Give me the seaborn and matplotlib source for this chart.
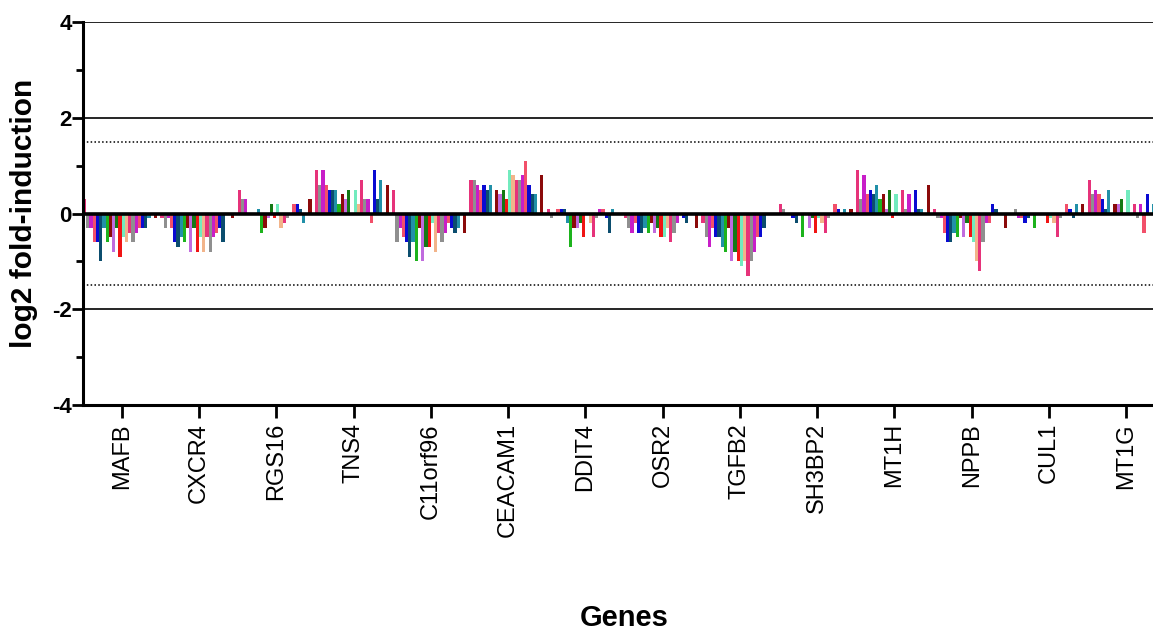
import numpy as np
import pandas as pd
import matplotlib
matplotlib.use("Agg")
import matplotlib.pyplot as plt
import seaborn as sns

sns.set_style("white")
plt.rcParams['font.family'] = ['Liberation Sans', 'DejaVu Sans']
plt.rcParams['axes.unicode_minus'] = False
plt.rcParams.update({'text.color': 'black', 'axes.labelcolor': 'black',
                     'xtick.color': 'black', 'ytick.color': 'black'})

# genes on the x axis
genes = ["MAFB", "CXCR4", "RGS16", "TNS4", "C11orf96", "CEACAM1", "DDIT4",
         "OSR2", "TGFB2", "SH3BP2", "MT1H", "NPPB", "CUL1", "MT1G"]

# log2 fold-induction, 24 samples per gene
mafb = [0.3, -0.3, -0.3, -0.6, -0.6, -1.0, -0.3, -0.6, -0.5, -0.8, -0.3, -0.9,
        -0.5, -0.6, -0.4, -0.6, -0.4, -0.3, -0.3, -0.3, -0.1, 0.0, -0.1, 0.0]
cxcr4 = [-0.1, -0.3, -0.1, -0.3, -0.6, -0.7, -0.5, -0.6, -0.3, -0.8, -0.3, -0.8,
         -0.5, -0.8, -0.5, -0.8, -0.5, -0.4, -0.3, -0.6, 0.0, 0.0, -0.1, 0.0]
rgs16 = [0.5, 0.3, 0.3, 0.0, 0.0, 0.0, 0.1, -0.4, -0.3, -0.1, 0.2, -0.1,
         0.2, -0.3, -0.2, -0.1, 0.0, 0.2, 0.2, 0.1, -0.2, 0.0, 0.3, 0.0]
tns4 = [0.9, 0.6, 0.9, 0.6, 0.5, 0.5, 0.5, 0.2, 0.4, 0.3, 0.5, 0.0,
        0.5, 0.2, 0.7, 0.3, 0.3, -0.2, 0.9, 0.3, 0.7, 0.0, 0.6, 0.0]
c11orf96 = [0.5, -0.6, -0.3, -0.5, -0.6, -0.9, -0.6, -1.0, -0.3, -1.0, -0.7, -0.7,
            -0.2, -0.8, -0.4, -0.6, -0.4, -0.2, -0.3, -0.4, -0.3, 0.0, -0.4, 0.0]
ceacam1 = [0.7, 0.7, 0.6, 0.5, 0.6, 0.5, 0.6, 0.0, 0.5, 0.4, 0.5, 0.3,
           0.9, 0.8, 0.7, 0.7, 0.8, 1.1, 0.6, 0.4, 0.4, 0.0, 0.8, 0.0]
ddit4 = [0.1, -0.1, 0.0, 0.1, 0.1, 0.1, -0.2, -0.7, -0.3, -0.3, -0.2, -0.5,
         0.0, -0.2, -0.5, -0.1, 0.1, 0.1, -0.1, -0.4, 0.1, 0.0, 0.0, 0.0]
osr2 = [-0.1, -0.3, -0.4, -0.2, -0.4, -0.4, -0.3, -0.4, -0.2, -0.4, -0.3, -0.5,
        -0.5, -0.3, -0.6, -0.4, -0.2, 0.0, -0.1, -0.2, 0.0, 0.0, -0.3, 0.0]
tgfb2 = [-0.2, -0.5, -0.7, -0.3, -0.5, -0.5, -0.7, -0.8, -0.3, -1.0, -0.8, -1.0,
         -1.1, -1.0, -1.3, -1.0, -0.8, -0.5, -0.5, -0.3, 0.0, 0.0, 0.0, 0.0]
sh3bp2 = [0.2, 0.1, 0.0, 0.0, -0.1, -0.2, 0.0, -0.5, 0.0, -0.3, -0.1, -0.4,
          -0.1, -0.2, -0.4, -0.1, 0.0, 0.2, 0.1, 0.0, 0.1, 0.0, 0.1, 0.0]
mt1h = [0.9, 0.3, 0.8, 0.4, 0.5, 0.4, 0.6, 0.3, 0.4, 0.1, 0.5, -0.1,
        0.4, 0.0, 0.5, 0.1, 0.4, 0.0, 0.5, 0.1, 0.1, 0.0, 0.6, 0.0]
nppb = [0.1, -0.1, -0.1, -0.4, -0.6, -0.6, -0.4, -0.5, -0.1, -0.5, -0.2, -0.5,
        -0.6, -1.0, -1.2, -0.6, -0.2, -0.2, 0.2, 0.1, 0.0, 0.0, -0.3, 0.0]
cul1 = [0.0, 0.1, -0.1, -0.1, -0.2, -0.1, 0.0, -0.3, 0.0, 0.0, 0.0, -0.2,
        -0.1, -0.2, -0.5, -0.1, 0.0, 0.2, 0.1, -0.1, 0.2, 0.0, 0.2, 0.0]
mt1g = [0.7, 0.4, 0.5, 0.4, 0.3, 0.1, 0.5, 0.0, 0.2, 0.2, 0.3, 0.0,
        0.5, 0.0, 0.2, -0.1, 0.2, -0.4, 0.4, 0.0, 0.2, 0.0, 0.0, 0.0]

all_vals = [mafb, cxcr4, rgs16, tns4, c11orf96, ceacam1, ddit4,
            osr2, tgfb2, sh3bp2, mt1h, nppb, cul1, mt1g]

samples = [f"S{i+1}" for i in range(24)]

# Prism-like colour cycle (14 colours repeated)
base_colors = ['#E6337A', '#8F8F8F', '#C81EC8', '#F2506A', '#0A0AD2', '#0B4D6E',
               '#2190A8', '#1DB31D', '#8B0A0A', '#C06BDE', '#147814', '#F01414',
               '#72EBBE', '#F2B48A']
palette = {s: base_colors[i % len(base_colors)] for i, s in enumerate(samples)}

rows = []
for g, vals in zip(genes, all_vals):
    for s, v in zip(samples, vals):
        rows.append({"gene": g, "sample": s, "value": v})
df = pd.DataFrame(rows)

fig = plt.figure(figsize=(11.53, 6.31), dpi=100)
ax = fig.add_axes([83 / 1153, (631 - 405) / 631, 1082 / 1153, 383 / 631])

sns.barplot(data=df, x="gene", y="value", hue="sample", order=genes,
            hue_order=samples, palette=palette, width=1.0, saturation=1,
            errorbar=None, legend=False, linewidth=0, ax=ax)

# reference lines
for y in [4, 2, -2]:
    ax.axhline(y, color='black', lw=1.2, zorder=1)
for y in [1.5, -1.5]:
    ax.axhline(y, color='black', lw=1.1, ls=(0, (1, 1.5)), zorder=1)
ax.axhline(0, color='black', lw=2.6, zorder=5)

ax.set_xlim(-0.5, 13.5)
ax.set_ylim(-4, 4)
ax.set_yticks([-4, -2, 0, 2, 4])
ax.set_yticks([-3, -1, 1, 3], minor=True)
for lab in ax.get_yticklabels():
    lab.set_fontweight('bold')
ax.tick_params(axis='y', which='major', labelsize=16, length=8, width=2, pad=0, direction='out', left=True)
ax.tick_params(axis='y', which='minor', length=5, width=2, direction='out', left=True)
ax.tick_params(axis='x', labelsize=17, length=9, width=2, pad=4, direction='out', bottom=True, rotation=90)

for side in ['top', 'right']:
    ax.spines[side].set_visible(False)
for side in ['left', 'bottom']:
    ax.spines[side].set_linewidth(2.2)
    ax.spines[side].set_color('black')

ax.set_ylabel("log2 fold-induction", fontsize=21.5, fontweight='bold')
ax.yaxis.label.set_va('center')
ax.yaxis.set_label_coords(-0.0545, 0.5)
ax.set_xlabel("Genes", fontsize=21, fontweight='bold')
ax.xaxis.label.set_va('center')
ax.xaxis.set_label_coords(0.5, -0.556)

fig.savefig("out.png", dpi=100)
